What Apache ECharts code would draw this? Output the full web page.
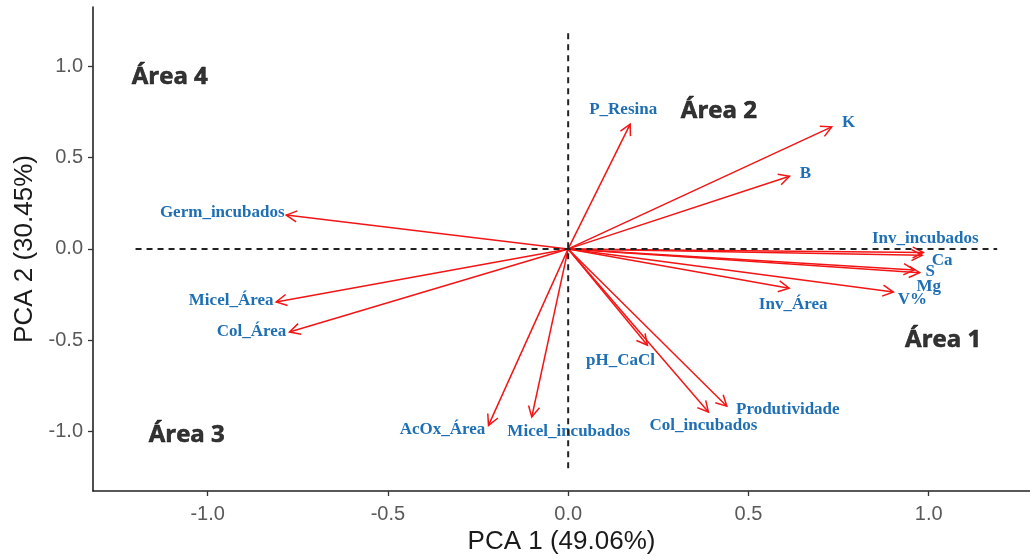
<!DOCTYPE html>
<html><head><meta charset="utf-8">
<script src="https://cdn.jsdelivr.net/npm/echarts@6/dist/echarts.min.js"></script>
<style>html,body{margin:0;padding:0;background:#fff}#c{width:1030px;height:560px}</style>
</head><body><div id="c"></div>
<script>
const variables = ['P_Resina','K','B','Inv_incubados','Ca','S','Mg','V%','Inv_Área','pH_CaCl','Col_incubados','Produtividade','Micel_incubados','AcOx_Área','Col_Área','Micel_Área','Germ_incubados'];
const pc1 = [0.172,0.731,0.614,0.985,0.982,0.960,0.975,0.902,0.613,0.220,0.389,0.440,-0.101,-0.221,-0.773,-0.810,-0.782];
const pc2 = [0.683,0.668,0.398,-0.020,-0.035,-0.115,-0.130,-0.236,-0.215,-0.527,-0.893,-0.861,-0.920,-0.966,-0.455,-0.290,0.185];
const labelOffsets = [[-7,-15],[17,-4],[16,-3],[2,-14],[20,5],[16,2],[9,14],[19,8],[4,16],[-27,15],[-5,14],[61,3],[37,15],[-46,4],[-38,0],[-45,-1],[-64,-2]];
const areaNames = ['Área 1','Área 2','Área 3','Área 4'];
const areaX = [1.040,0.418,-1.058,-1.105];
const areaY = [-0.502,0.756,-1.020,0.942];
const xTicks = [-1.0,-0.5,0.0,0.5,1.0];
const yTicks = [-1.0,-0.5,0.0,0.5,1.0];
const refH = [[-1.2,0],[1.19,0]];
const refV = [[0,-1.2],[0,1.19]];

const chart = echarts.init(document.getElementById('c'), null, {renderer:'canvas'});
const axisCommon = {
  type:'value', splitLine:{show:false},
  axisLine:{show:true, onZero:false, lineStyle:{color:'#222', width:1.6}},
  axisTick:{show:true, length:5, lineStyle:{color:'#333', width:1.3}},
  nameLocation:'middle',
  nameTextStyle:{fontSize:26, color:'#1a1a1a', fontFamily:'Liberation Sans'}
};
const refLine = {type:'line', symbol:'none', silent:true, z:5, lineStyle:{color:'#222', width:2, type:[6,5]}};
chart.setOption({
  animation:false,
  grid:{left:93, right:0, top:7, bottom:69},
  xAxis:Object.assign({}, axisCommon, {
    min:-1.318, max:1.281, name:'PCA 1 (49.06%)', nameGap:37,
    axisTick:Object.assign({}, axisCommon.axisTick, {customValues:xTicks}),
    axisLabel:{customValues:xTicks, formatter:v=>v.toFixed(1), color:'#595959', fontSize:20, fontFamily:'Liberation Sans', margin:13}
  }),
  yAxis:Object.assign({}, axisCommon, {
    min:-1.325, max:1.324, name:'PCA 2 (30.45%)', nameGap:53,
    axisTick:Object.assign({}, axisCommon.axisTick, {customValues:yTicks}),
    axisLabel:{customValues:yTicks, formatter:v=>v.toFixed(1), color:'#595959', fontSize:20, fontFamily:'Liberation Sans', margin:10}
  }),
  series:[
    {
      type:'custom', z:3,
      data:variables.map((n,i)=>[pc1[i], pc2[i], i]),
      renderItem:function(params, api){
        const x = api.value(0), y = api.value(1), i = api.value(2);
        const o = api.coord([0,0]), p = api.coord([x,y]);
        const ang = Math.atan2(p[1]-o[1], p[0]-o[0]);
        const L = 12, a = Math.PI/6.5;
        const h1 = [p[0]-L*Math.cos(ang-a), p[1]-L*Math.sin(ang-a)];
        const h2 = [p[0]-L*Math.cos(ang+a), p[1]-L*Math.sin(ang+a)];
        const off = labelOffsets[i];
        return {type:'group', children:[
          {type:'line', shape:{x1:o[0],y1:o[1],x2:p[0],y2:p[1]}, style:{stroke:'#f31515', lineWidth:1.5}},
          {type:'polyline', shape:{points:[h1,p,h2]}, style:{stroke:'#f31515', lineWidth:1.5, fill:null}},
          {type:'text', x:p[0]+off[0], y:p[1]+off[1], style:{text:variables[i], fill:'#1f6fb4', font:'bold 17px "Liberation Serif"', align:'center', verticalAlign:'middle'}}
        ]};
      }
    },
    Object.assign({}, refLine, {data:refH}),
    Object.assign({}, refLine, {data:refV}),
    {
      type:'scatter', symbolSize:0, silent:true, z:6,
      data:areaNames.map((n,i)=>({name:n, value:[areaX[i], areaY[i]]})),
      label:{show:true, position:'inside', formatter:'{b}', color:'#000000', fontSize:24, fontWeight:'bold', fontFamily:'Open Sans', textBorderColor:'#000000', textBorderWidth:0.6}
    }
  ]
});
</script></body></html>
